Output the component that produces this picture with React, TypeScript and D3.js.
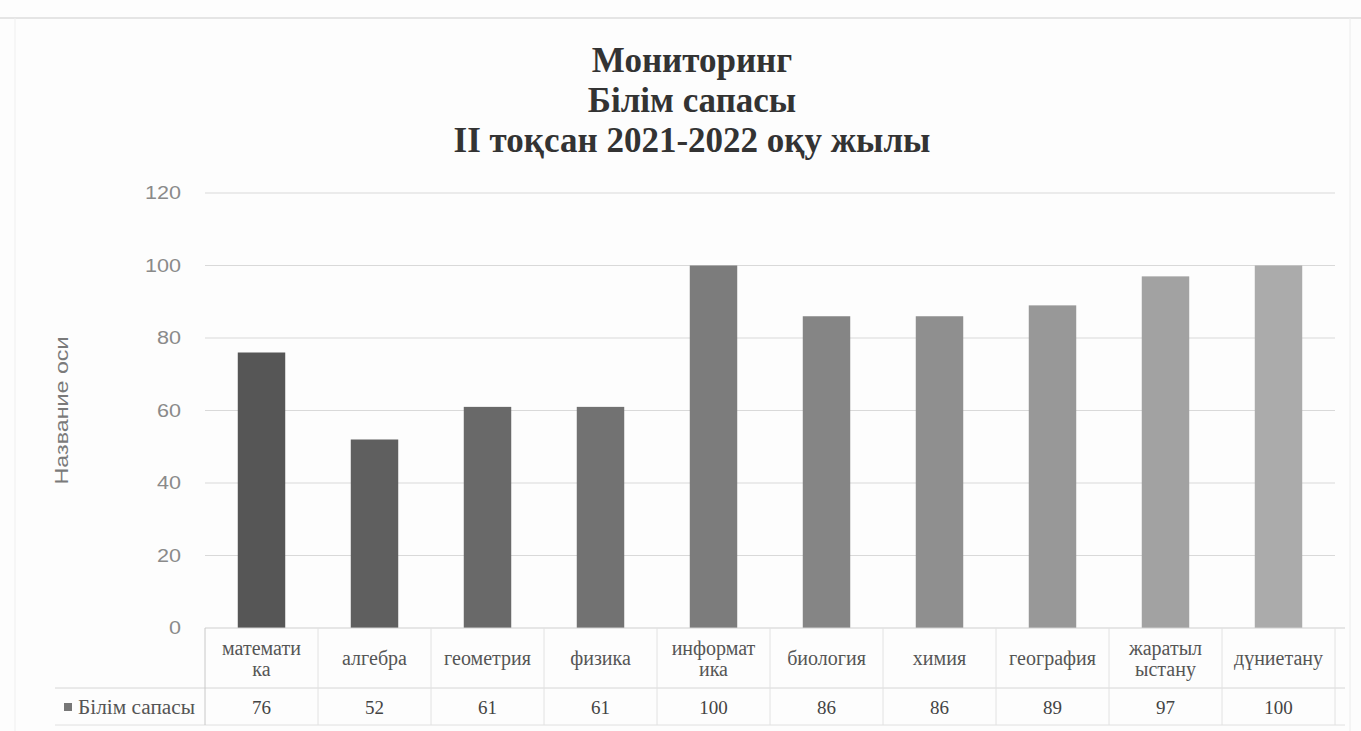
import React from "react";
import * as d3 from "d3";

const categories: string[][] = [
  ["математи", "ка"],
  ["алгебра"],
  ["геометрия"],
  ["физика"],
  ["информат", "ика"],
  ["биология"],
  ["химия"],
  ["география"],
  ["жаратыл", "ыстану"],
  ["дүниетану"],
];
const values: number[] = [76, 52, 61, 61, 100, 86, 86, 89, 97, 100];
const yTicks: number[] = [0, 20, 40, 60, 80, 100, 120];
const titleLines: string[] = ["Мониторинг", "Білім сапасы", "II  тоқсан 2021-2022 оқу жылы"];
const seriesName = "Білім сапасы";
const axisTitle = "Название оси";

const W = 1361;
const H = 731;
const plotLeft = 205;
const plotRight = 1335;
const plotTop = 193;
const plotBottom = 628;
const tableRow1 = 688;
const tableRow2 = 725;
const tableLeft = 55;

export default function App() {
  const x = d3
    .scaleBand<number>()
    .domain(values.map((_, i) => i))
    .range([plotLeft, plotRight])
    .paddingInner(0.58)
    .paddingOuter(0.29);
  const band = (plotRight - plotLeft) / values.length;
  const y = d3.scaleLinear().domain([0, 120]).range([plotBottom, plotTop]);
  const color = (i: number) =>
    d3.interpolateRgb("#565656", "#ababab")(i / (values.length - 1));
  const serif = "'Liberation Serif', 'DejaVu Serif', serif";
  const sans = "'Liberation Sans', Arial, sans-serif";
  return (
    <svg
      width={W}
      height={H}
      style={{ position: "absolute", left: 0, top: 0, background: "#fff" }}
    >
      <rect x={0} y={0} width={W} height={H} fill="#fdfdfd" />
      <line x1={0} x2={W} y1={18} y2={18} stroke="#dcdcdc" strokeWidth={1.5} />
      <line x1={15} x2={15} y1={18} y2={H} stroke="#efefef" strokeWidth={1} />
      <line x1={1350} x2={1350} y1={18} y2={H} stroke="#ececec" strokeWidth={1} />
      {titleLines.map((t, i) => (
        <text
          key={i}
          x={692}
          y={72 + i * 40}
          textAnchor="middle"
          fontFamily={serif}
          fontWeight="bold"
          fontSize={35}
          fill="#333"
        >
          {t}
        </text>
      ))}
      {yTicks.map((t) => (
        <g key={t}>
          {t > 0 && (
            <line
              x1={plotLeft}
              x2={plotRight}
              y1={y(t)}
              y2={y(t)}
              stroke="#d9d9d9"
              strokeWidth={1}
            />
          )}
          <text
            x={181 - String(t).length * 12}
            y={y(t)}
            dy="0.35em"
            fontFamily={sans}
            fontSize={18}
            textLength={String(t).length * 12}
            lengthAdjust="spacingAndGlyphs"
            fill="#8a8a8a"
          >
            {t}
          </text>
        </g>
      ))}
      <text
        transform={`translate(68,${(plotTop + plotBottom) / 2}) rotate(-90)`}
        textAnchor="middle"
        fontFamily={sans}
        fontSize={19}
        textLength={148}
        lengthAdjust="spacingAndGlyphs"
        fill="#7a7a7a"
      >
        {axisTitle}
      </text>
      {values.map((v, i) => (
        <rect
          key={i}
          x={x(i)}
          y={y(v)}
          width={x.bandwidth()}
          height={plotBottom - y(v)}
          fill={color(i)}
        />
      ))}
      {/* data table */}
      <line x1={plotLeft} x2={plotRight + 10} y1={plotBottom} y2={plotBottom} stroke="#cfcfcf" />
      <line x1={tableLeft} x2={plotRight + 10} y1={tableRow1} y2={tableRow1} stroke="#d6d6d6" />
      <line x1={tableLeft} x2={plotRight + 10} y1={tableRow2} y2={tableRow2} stroke="#e0e0e0" />
      <line x1={plotLeft} x2={plotLeft} y1={plotBottom} y2={tableRow2} stroke="#c8c8c8" />
      {values.map((_, i) => (
        <line
          key={i}
          x1={plotLeft + band * (i + 1)}
          x2={plotLeft + band * (i + 1)}
          y1={plotBottom}
          y2={tableRow2}
          stroke="#e2e2e2"
        />
      ))}
      {categories.map((lines, i) => {
        const cx = plotLeft + band * (i + 0.5);
        const mid = (plotBottom + tableRow1) / 2;
        const start = mid - ((lines.length - 1) * 21) / 2;
        return (
          <text
            key={i}
            textAnchor="middle"
            fontFamily={serif}
            fontSize={20}
            fill="#555"
          >
            {lines.map((l, j) => (
              <tspan key={j} x={cx} y={start + j * 21} dy="0.35em">
                {l}
              </tspan>
            ))}
          </text>
        );
      })}
      {values.map((v, i) => (
        <text
          key={i}
          x={plotLeft + band * (i + 0.5)}
          y={(tableRow1 + tableRow2) / 2 + 1}
          dy="0.35em"
          textAnchor="middle"
          fontFamily={serif}
          fontSize={19}
          fill="#444"
        >
          {v}
        </text>
      ))}
      <rect x={64} y={703} width={8} height={8} fill="#777" />
      <text
        x={78}
        y={(tableRow1 + tableRow2) / 2}
        dy="0.35em"
        fontFamily={serif}
        fontSize={20}
        textLength={117}
        lengthAdjust="spacingAndGlyphs"
        fill="#555"
      >
        {seriesName}
      </text>
    </svg>
  );
}
